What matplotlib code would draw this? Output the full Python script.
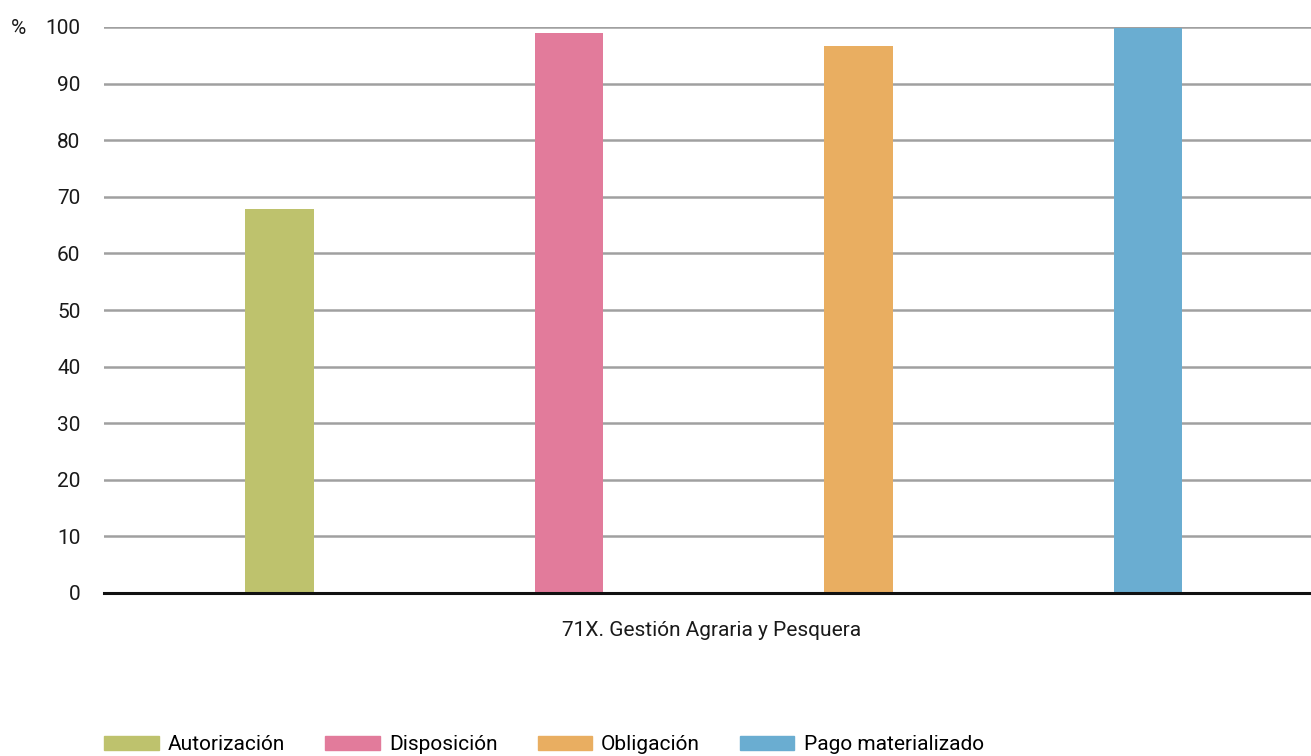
import matplotlib
matplotlib.use("Agg")
import matplotlib.pyplot as plt
from matplotlib.patches import Patch

series = ["Autorización", "Disposición", "Obligación", "Pago materializado"]
values = [67.8, 98.9, 96.6, 99.9]
colors = ["#bec26d", "#e27b9b", "#e9ae61", "#6aadd1"]
category = "71X. Gestión Agraria y Pesquera"
yticks = [0, 10, 20, 30, 40, 50, 60, 70, 80, 90, 100]

plt.rcParams['font.family'] = ['Roboto', 'DejaVu Sans']

fig = plt.figure(figsize=(13.11, 7.56), dpi=100)
ax = fig.add_axes([104/1311, 1-593/756, 1-104/1311, (593-27)/756])

x = list(range(len(series)))
ax.bar(x, values, width=0.238, color=colors, zorder=3)
ax.set_xlim(-0.606, 3.563)
ax.set_ylim(0, 100)
ax.set_yticks(yticks)
ax.set_yticklabels([str(t) for t in yticks], fontsize=15, color="#1a1a1a")
ax.tick_params(axis='y', length=0, pad=17)
ax.set_xticks([])
ax.grid(axis='y', color="#a0a0a0", linewidth=1.8, zorder=0)
for s in ["left", "right", "top"]:
    ax.spines[s].set_visible(False)
ax.spines["bottom"].set_color("#111111")
ax.spines["bottom"].set_linewidth(2.2)
ax.spines["bottom"].set_zorder(4)

fig.text(712/1311, 1-631/756, category, ha="center", va="center",
         fontsize=15, color="#1a1a1a")
fig.text(18/1311, 1-28/756, "%", ha="center", va="center", fontsize=15, color="#1a1a1a")

handles = [Patch(color=c, label=s) for c, s in zip(colors, series)]
fig.legend(handles=handles, loc="lower left", bbox_to_anchor=(96/1311, -0.009),
           ncol=4, frameon=False, fontsize=15, handlelength=2.6, handleheight=0.65,
           handletextpad=0.45, columnspacing=1.93, borderaxespad=0)

fig.savefig("out.png", dpi=100)
